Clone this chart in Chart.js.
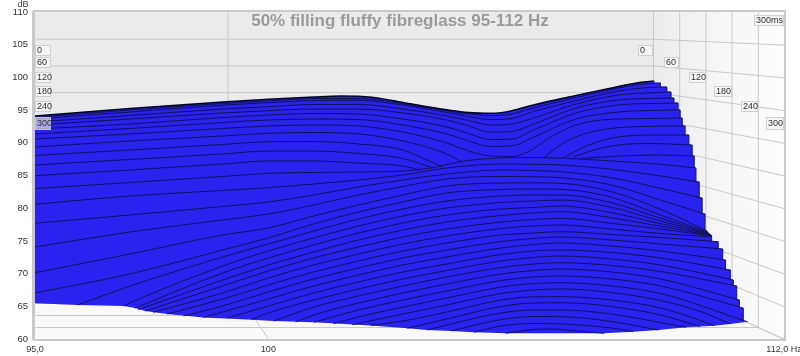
<!DOCTYPE html>
<html>
<head>
<meta charset="utf-8">
<title>50% filling fluffy fibreglass 95-112 Hz</title>
<script src="https://cdn.jsdelivr.net/npm/chart.js@4/dist/chart.umd.min.js"></script>
<style>
  html, body { margin: 0; padding: 0; background: #fff; }
  canvas { display: block; }
</style>
</head>
<body>
<canvas id="waterfall" width="800" height="356"></canvas>
<script>
const chartTitle = "50% filling fluffy fibreglass 95-112 Hz";
const freqTicks = [95, 100, 112];
const freqLabels = ["95,0", "100", "112,0 Hz"];
const timeLabels = ["0", "60", "120", "180", "240", "300"];

// one list of [Hz, dB] per time slice, as seen on the picture (back to front)
const slices = [
  [[95,94.10],[97,95.25],[99,96.24],[100,96.65],[101,97.00],[101.6,97.15],[102.3,96.96],[103,96.16],[104,95.05],[104.5,94.62],[105,94.51],[105.25,94.60],[105.5,94.90],[106,95.78],[107,97.23],[108,98.61],[108.5,99.22],[108.84,99.45]],
  [[95,93.87],[97,95.02],[99,96.01],[100,96.39],[101,96.77],[102,96.77],[103,95.98],[104,94.86],[104.5,94.41],[105,94.17],[105.5,94.41],[106,95.32],[107,96.93],[108,98.38],[108.5,98.92],[109,99.14]],
  [[95,93.64],[97,94.71],[99,95.75],[100,96.13],[101,96.47],[102,96.50],[103,95.78],[104,94.63],[104.5,94.02],[105,93.56],[105.5,93.72],[106,94.79],[107,96.47],[108,97.92],[108.7,98.45],[109.15,98.53]],
  [[95,93.18],[97,94.17],[99,95.17],[100,95.52],[101,95.86],[102,95.86],[103,95.17],[104,94.10],[104.5,93.41],[105,92.72],[105.5,92.87],[106,93.79],[107,95.93],[108,97.31],[108.77,97.65],[109.25,97.77]],
  [[95,92.72],[97,93.64],[99,94.56],[100,94.91],[101,95.17],[102,95.17],[103,94.56],[104,93.48],[104.5,92.57],[105,91.65],[105.5,91.73],[106,92.87],[107,95.32],[108,96.55],[108.77,96.77],[109.32,96.85]],
  [[95,92.11],[97,92.87],[99,93.87],[100,94.25],[101,94.48],[102,94.40],[103,93.64],[104,92.42],[104.5,91.42],[105,90.50],[105.5,90.58],[106,91.96],[107,94.56],[108,95.78],[108.77,96.01],[109.42,96.09]],
  [[95,91.35],[97,92.19],[99,93.10],[100,93.49],[101,93.64],[102,93.56],[103,92.72],[104,91.35],[104.5,90.28],[105,89.44],[105.5,89.53],[106,90.88],[107,93.64],[108,94.71],[108.77,94.94],[109.47,95.02]],
  [[95,90.58],[97,91.35],[99,92.19],[100,92.57],[101,92.72],[102,92.57],[103,91.65],[104,89.97],[104.5,88.75],[105,87.98],[105.5,87.90],[105.8,88.40],[106,89.10],[106.4,90.90],[107,92.72],[107.6,93.49],[108.77,93.72],[109.52,93.79]],
  [[106.23,87.68],[106.56,89.36],[106.93,90.74],[107.58,91.96],[108.53,92.49],[109.59,92.57]],
  [[106.7,87.68],[107.04,88.90],[107.42,89.97],[108,90.89],[108.77,91.19],[109.68,91.19]],
  [[106.93,87.83],[107.42,88.90],[108,89.66],[108.77,89.89],[109.76,89.66]],
  [[107.1,87.6],[108.05,87.98],[109,88.13],[109.81,87.98]],
  [[95,83.01],[97,83.93],[99,84.85],[100,85.34],[101,85.46],[102,85.54],[103,85.69],[103.63,86.15],[103.9,86.53],[104.5,87.30],[105.25,87.68],[106,87.75],[106.64,87.67],[107.83,87.22],[109,86.71],[109.85,86.15]],
  [[95,80.60],[97,81.87],[99,82.71],[100,83.14],[101,83.70],[102,84.31],[103,85.08],[104,86.15],[105.25,86.76],[106,86.71],[106.64,86.61],[107.83,85.95],[109,84.93],[109.93,84.01]],
  [[95,77.69],[97,78.96],[99,80.26],[100,80.95],[101,82.02],[102,83.24],[103,84.31],[104,85.23],[105.25,85.84],[106,85.75],[106.64,85.58],[107.83,84.66],[109,83.04],[110,81.56]],
  [[95,74.07],[97,76.36],[99,78.20],[100,79.12],[101,80.49],[102,82.02],[103,83.32],[104,84.47],[105.25,84.85],[106,84.80],[106.64,84.66],[107.83,83.55],[109,81.25],[110.07,79.12]],
  [[95,70.14],[97,72.99],[99,75.90],[100,76.97],[101,78.81],[102,80.49],[103,82.02],[104,83.40],[105.25,83.85],[106,83.88],[106.64,83.81],[107.83,82.52],[109,79.84],[110.12,76.52]],
  [[95,67.04],[97,69.94],[99,73.61],[100,75.45],[101,77.59],[102,79.42],[103,80.95],[104,82.33],[105.25,82.86],[106,82.94],[106.64,82.89],[107.83,81.67],[109,78.96],[110.13,76.36]],
  [[95.89,65.20],[97,68.08],[99,72.54],[100,74.53],[101,76.51],[102,78.35],[103,79.88],[104,81.10],[105.25,81.87],[106,82.02],[106.64,82.02],[107.83,80.84],[109,78.46],[110.15,76.24]],
  [[96.87,65.05],[97,65.51],[99,71.16],[100,73.46],[101,75.45],[102,77.28],[103,78.81],[104,80.03],[105.25,80.87],[106,81.10],[106.64,81.25],[107.83,80.14],[109,78.04],[110.17,76.13]],
  [[97.11,64.74],[99,70.09],[100,72.39],[101,74.37],[102,76.21],[103,77.74],[104,78.96],[105.25,79.88],[106,80.11],[106.64,80.34],[107.83,79.31],[109,77.63],[110.2,75.98]],
  [[97.18,64.48],[99,69.02],[100,71.32],[101,73.30],[102,75.14],[103,76.67],[104,77.89],[105.25,78.89],[106,79.27],[106.64,79.47],[107.83,78.55],[109,77.23],[110.22,75.86]],
  [[97.33,64.28],[99,68.11],[100,70.40],[101,72.39],[102,74.07],[103,75.60],[104,76.82],[105.25,77.89],[106,78.27],[106.64,78.46],[107.83,77.69],[109,76.82],[110.23,75.75]],
  [[97.5,64.08],[99,67.04],[100,69.33],[101,71.32],[102,73.0],[103,74.53],[104,75.75],[105.25,76.90],[106,77.28],[106.64,77.43],[107.83,76.82],[109,76.13],[110.24,75.60]],
  [[97.8,63.82],[99,66.12],[100,68.26],[101,70.25],[102,71.93],[103,73.46],[104,74.68],[105.25,75.90],[106,76.21],[106.64,76.41],[107.83,75.98],[109,75.52],[110.39,74.88]],
  [[98.15,63.52],[99,65.05],[100,67.19],[101,69.18],[102,70.86],[103,72.39],[104,73.61],[105.25,74.91],[106,75.37],[106.64,75.60],[107.83,75.14],[109,74.53],[110.5,73.76]],
  [[98.58,63.29],[99,64.13],[100,66.12],[101,68.11],[102,69.79],[103,71.32],[104,72.54],[105.25,73.92],[106,74.45],[106.64,74.68],[107.83,74.22],[109,73.46],[110.57,72.08]],
  [[99.1,63.21],[100,65.05],[101,67.04],[102,68.73],[103,70.25],[104,71.47],[105.25,72.92],[106,73.46],[106.64,73.61],[107.83,73.23],[109,72.39],[110.69,70.55]],
  [[99.63,62.95],[100,63.98],[101,65.96],[102,67.65],[103,69.17],[104,70.48],[105.25,71.93],[106,72.46],[106.64,72.69],[107.83,72.23],[109,71.32],[110.76,69.02]],
  [[100.11,62.75],[101,64.89],[102,66.58],[103,68.11],[104,69.48],[105.25,70.93],[106,71.47],[106.64,71.67],[107.83,71.24],[109,70.32],[110.84,68.11]],
  [[100.6,62.6],[101,63.67],[102,65.5],[103,67.04],[104,68.41],[105.25,69.94],[106,70.47],[106.64,70.70],[107.83,70.25],[109,69.18],[110.91,65.96]],
  [[101,62.55],[102,64.44],[103,65.96],[104,67.34],[105.25,68.95],[106,69.48],[106.64,69.63],[107.83,69.18],[109,68.11],[111,64.74]],
  [[101.44,62.34],[102,63.37],[103,64.89],[104,66.27],[105.25,67.95],[106,68.49],[106.64,68.61],[107.83,68.11],[109,66.96],[111.1,62.65]],
  [[101.86,62.17],[103,63.82],[104,65.2],[105.25,66.96],[106,67.49],[106.64,67.65],[107.83,67.11],[109,65.89],[110,64.13],[110.69,62.30]],
  [[102.27,62.08],[103,62.75],[104,64.13],[105.25,65.96],[106,66.45],[106.64,66.47],[107.83,65.96],[109,64.74],[110,62.75],[110.29,62.04]],
  [[103.1,61.64],[104,63.06],[105.25,64.97],[106,65.51],[106.64,65.55],[107.83,64.97],[109,63.67],[109.95,61.91]],
  [[103.55,61.38],[104,62.14],[105.25,63.98],[106,64.44],[106.64,64.44],[107.83,63.82],[109,62.52],[109.62,61.79]],
  [[104.09,61.23],[105.25,62.98],[106,63.44],[106.64,63.41],[107.83,62.68],[108.95,61.38]],
  [[104.62,61.03],[105.25,61.99],[106,62.37],[106.64,62.30],[107.83,61.68],[108.35,61.12]],
  [[105.35,60.87],[106,61.45],[106.4,61.53],[107,61.22],[107.66,60.87]]
];

// left parts of slices 8-11, they go behind the ridge and come out again further right
const hiddenSliceParts = [
  [[95,89.36],[97,90.28],[99,91.04],[100,91.45],[101,91.57],[102,91.35],[103,90.28],[104,88.29],[104.33,87.14]],
  [[95,88.06],[97,88.90],[99,89.74],[100,90.17],[101,90.20],[102,89.82],[103,88.90],[103.6,87.22],[103.9,86.30]],
  [[95,86.61],[97,87.45],[99,88.29],[100,88.74],[101,88.74],[102,88.37],[103,87.60],[103.68,86.15]],
  [[95,84.97],[97,85.84],[99,86.76],[100,87.22],[101,87.22],[102,86.91],[103,86.45],[103.4,85.84]]
];

// lower edge of the blue surface
const bottomEdge = [[95,65.46],[95.89,65.2],[96.87,65.05],[97.11,64.74],[97.33,64.28],[97.8,63.82],[98.58,63.29],[99.63,62.95],[100.11,62.75],[101,62.55],[102.27,62.08],[103.1,61.64],[103.55,61.38],[104.09,61.23],[104.62,61.03],[105.35,60.87],[107.66,60.87],[108.35,61.12],[108.95,61.38],[109.62,61.79],[109.95,61.91],[110.29,62.04],[110.69,62.30],[111.1,62.65]];

const STAIR_SLICES = 33; // slices whose right end sits on the stepped edge
const BLUE = "#2a22ee";
const LINE = "#10104a";
const GRID = "#c9c9c9";

const toPoints = list => list.map(p => ({ x: p[0], y: p[1] }));

// stepped right edge of the surface, from the end of the first slice down
function buildStairs() {
  const out = [toPoints(slices[0]).pop()];
  for (let i = 1; i < STAIR_SLICES; i++) {
    const prev = slices[i - 1][slices[i - 1].length - 1];
    const end = slices[i][slices[i].length - 1];
    out.push({ x: prev[0], y: end[1] });
    out.push({ x: end[0], y: end[1] });
  }
  return out;
}

// datasets with a bigger order are drawn first, so the fill stays under the lines
const datasets = [
  {
    data: toPoints(slices[0]).concat(buildStairs().slice(1)),
    borderWidth: 0,
    borderColor: BLUE,
    backgroundColor: BLUE,
    fill: "+1",
    pointRadius: 0,
    tension: 0,
    order: 100
  },
  {
    data: toPoints(bottomEdge),
    borderColor: "rgba(0,0,0,0)",
    borderWidth: 0,
    fill: false,
    pointRadius: 0,
    tension: 0,
    order: 101
  },
  {
    data: buildStairs(),
    borderColor: "#20208c",
    borderWidth: 0.7,
    fill: false,
    pointRadius: 0,
    tension: 0,
    order: 50
  }
];
slices.concat(hiddenSliceParts).forEach((s, i) => {
  datasets.push({
    data: toPoints(s),
    borderColor: i === 0 ? "#05052a" : LINE,
    borderWidth: i === 0 ? 1.6 : 0.9,
    fill: false,
    pointRadius: 0,
    cubicInterpolationMode: "monotone",
    order: i === 0 ? 0 : 10
  });
});

// walls, floor and the perspective grid behind the surface
const walls = {
  id: "walls",
  beforeDatasetsDraw(chart) {
    const { ctx, scales: { x, y }, chartArea: a } = chart;
    const backRight = 653, backFloor = 279;
    const frontW = a.right - a.left;
    const back = hz => a.left + (x.getPixelForValue(hz) - a.left) * (backRight - a.left) / frontW;
    const backDb = db => a.top + (y.getPixelForValue(db) - a.top) * (backFloor - a.top) / (a.bottom - a.top);
    const seg = (x1, y1, x2, y2) => { ctx.beginPath(); ctx.moveTo(x1 + 0.5, y1 + 0.5); ctx.lineTo(x2 + 0.5, y2 + 0.5); ctx.stroke(); };

    ctx.save();
    ctx.fillStyle = "#ebebeb";
    ctx.fillRect(a.left, a.top, backRight - a.left, backFloor - a.top);
    const g = ctx.createLinearGradient(backRight, 0, a.right, 0);
    g.addColorStop(0, "#ececec");
    g.addColorStop(1, "#fefefe");
    ctx.fillStyle = g;
    ctx.beginPath();
    ctx.moveTo(backRight, a.top); ctx.lineTo(a.right, a.top); ctx.lineTo(a.right, a.bottom); ctx.lineTo(backRight, backFloor);
    ctx.fill();
    ctx.fillStyle = "#f9f9f9";
    ctx.beginPath();
    ctx.moveTo(a.left, backFloor); ctx.lineTo(backRight, backFloor); ctx.lineTo(a.right, a.bottom); ctx.lineTo(a.left, a.bottom);
    ctx.fill();

    ctx.strokeStyle = GRID;
    ctx.lineWidth = 1;
    for (let db = 60; db < 110; db += 5) {
      seg(a.left, backDb(db), backRight, backDb(db));
      seg(backRight, backDb(db), a.right, y.getPixelForValue(db));
    }
    seg(back(100), a.top, back(100), backFloor);
    seg(back(100), backFloor, x.getPixelForValue(100), a.bottom);
    for (let i = 0; i < 5; i++) {
      const vx = backRight + (a.right - backRight) * i / 5;
      const fy = backFloor + (a.bottom - backFloor) * i / 5;
      seg(vx, a.top, vx, fy);
      seg(a.left, fy, vx, fy);
    }
    seg(backRight, backFloor, a.right, a.bottom);
    ctx.restore();
  },
  afterDatasetsDraw(chart) {
    const { ctx, chartArea: a } = chart;
    ctx.save();
    ctx.strokeStyle = GRID;
    ctx.lineWidth = 2;
    ctx.strokeRect(a.left - 1, a.top - 1, a.right - a.left + 2, a.bottom - a.top + 2);
    ctx.fillStyle = GRID;
    ctx.fillRect(a.left - 3, a.top - 1, 3, a.bottom - a.top + 2);

    ctx.fillStyle = "#9a9a9a";
    ctx.font = "bold 17px 'Liberation Sans', Arial, sans-serif";
    ctx.textAlign = "center";
    ctx.textBaseline = "middle";
    ctx.fillText(chartTitle, 400, 21);

    ctx.fillStyle = "#444";
    ctx.font = "9px 'Liberation Sans', Arial, sans-serif";
    ctx.fillText("dB", 23, 5);

    // time labels on both sides of the waterfall
    const tag = (text, x0, y0, w, h, alpha) => {
      ctx.fillStyle = "rgba(245,245,245," + alpha + ")";
      ctx.fillRect(x0, y0, w, h);
      ctx.strokeStyle = "rgba(205,205,205," + alpha + ")";
      ctx.lineWidth = 1;
      ctx.strokeRect(x0 + 0.5, y0 + 0.5, w - 1, h - 1);
      ctx.fillStyle = "#333";
      ctx.font = "9px 'Liberation Sans', Arial, sans-serif";
      ctx.textAlign = "left";
      ctx.textBaseline = "middle";
      ctx.fillText(text, x0 + 2, y0 + h / 2 + 0.5);
    };
    const leftTop = [45, 57, 72, 86, 101, 117];
    const rightX = [653, 679, 706, 732, 758, 784];
    const rightW = [15, 15, 17, 18, 17, 18];
    timeLabels.forEach((t, i) => {
      tag(t, 35, leftTop[i], 16, i === 5 ? 13 : 11, i === 5 ? 0.65 : 0.95);
      tag(t, rightX[i] - rightW[i], leftTop[i], rightW[i], i === 5 ? 13 : 11, 0.95);
    });
    tag("300ms", 754, 15, 30, 11, 0.95);
    ctx.restore();
  }
};

new Chart(document.getElementById("waterfall"), {
  type: "line",
  data: { datasets },
  plugins: [walls],
  options: {
    responsive: false,
    animation: false,
    layout: { padding: { top: 12, right: 16, bottom: 0, left: 0 } },
    plugins: { legend: { display: false }, tooltip: { enabled: false }, title: { display: false } },
    scales: {
      x: {
        type: "logarithmic",
        min: 95,
        max: 112,
        grid: { display: false, tickLength: 3 },
        border: { display: false },
        afterBuildTicks: s => { s.ticks = freqTicks.map(v => ({ value: v })); },
        afterFit: s => { s.height = 17; s.paddingLeft = 0; s.paddingRight = 0; },
        ticks: {
          autoSkip: false,
          maxRotation: 0,
          padding: 2,
          color: "#333",
          font: { family: "'Liberation Sans', Arial, sans-serif", size: 9 },
          callback: (v, i) => freqLabels[i]
        }
      },
      y: {
        min: 60,
        max: 110,
        grid: { display: false, tickLength: 4 },
        border: { display: false },
        afterFit: s => { s.width = 35; },
        ticks: {
          stepSize: 5,
          padding: 3,
          color: "#333",
          font: { family: "'Liberation Sans', Arial, sans-serif", size: 9.5 }
        }
      }
    }
  }
});
</script>
</body>
</html>
